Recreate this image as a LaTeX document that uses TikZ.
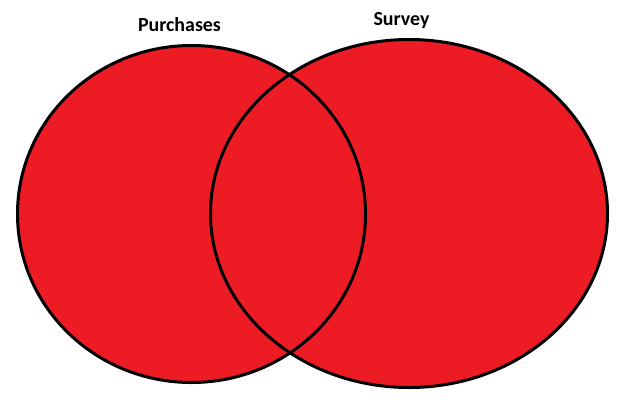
\documentclass[tikz,border=0pt]{standalone}
\usepackage{fontspec}
\setmainfont{Carlito}
\definecolor{vennred}{RGB}{237,28,36}
\usetikzlibrary{shapes.geometric}

\begin{document}
\begin{tikzpicture}[
    x=1bp, y=-1bp,
    vennfill/.style={ellipse, fill=vennred, inner sep=0pt},
    vennline/.style={ellipse, draw=black, line width=3bp, inner sep=0pt},
    purchasesset/.style={minimum width=348bp, minimum height=337bp},
    surveyset/.style={minimum width=397bp, minimum height=348bp},
    setlabel/.style={anchor=base, font=\fontsize{20}{24}\selectfont\bfseries}
  ]
    \useasboundingbox (0,0) rectangle (624,418);

    % Filled sets
    \node[vennfill, purchasesset] (purchases) at (191.5,214) {};
    \node[vennfill, surveyset]    (survey)    at (409,213.5) {};

    % Outlines on top, so both show in the overlap
    \node[vennline, purchasesset] (purchasesline) at (purchases) {};
    \node[vennline, surveyset]    (surveyline)    at (survey) {};

    % Set labels
    \node[setlabel] (purchaseslabel) at (179.5,31) {Purchases};
    \node[setlabel] (surveylabel)    at (401.5,25) {Survey};
  \end{tikzpicture}
\end{document}
